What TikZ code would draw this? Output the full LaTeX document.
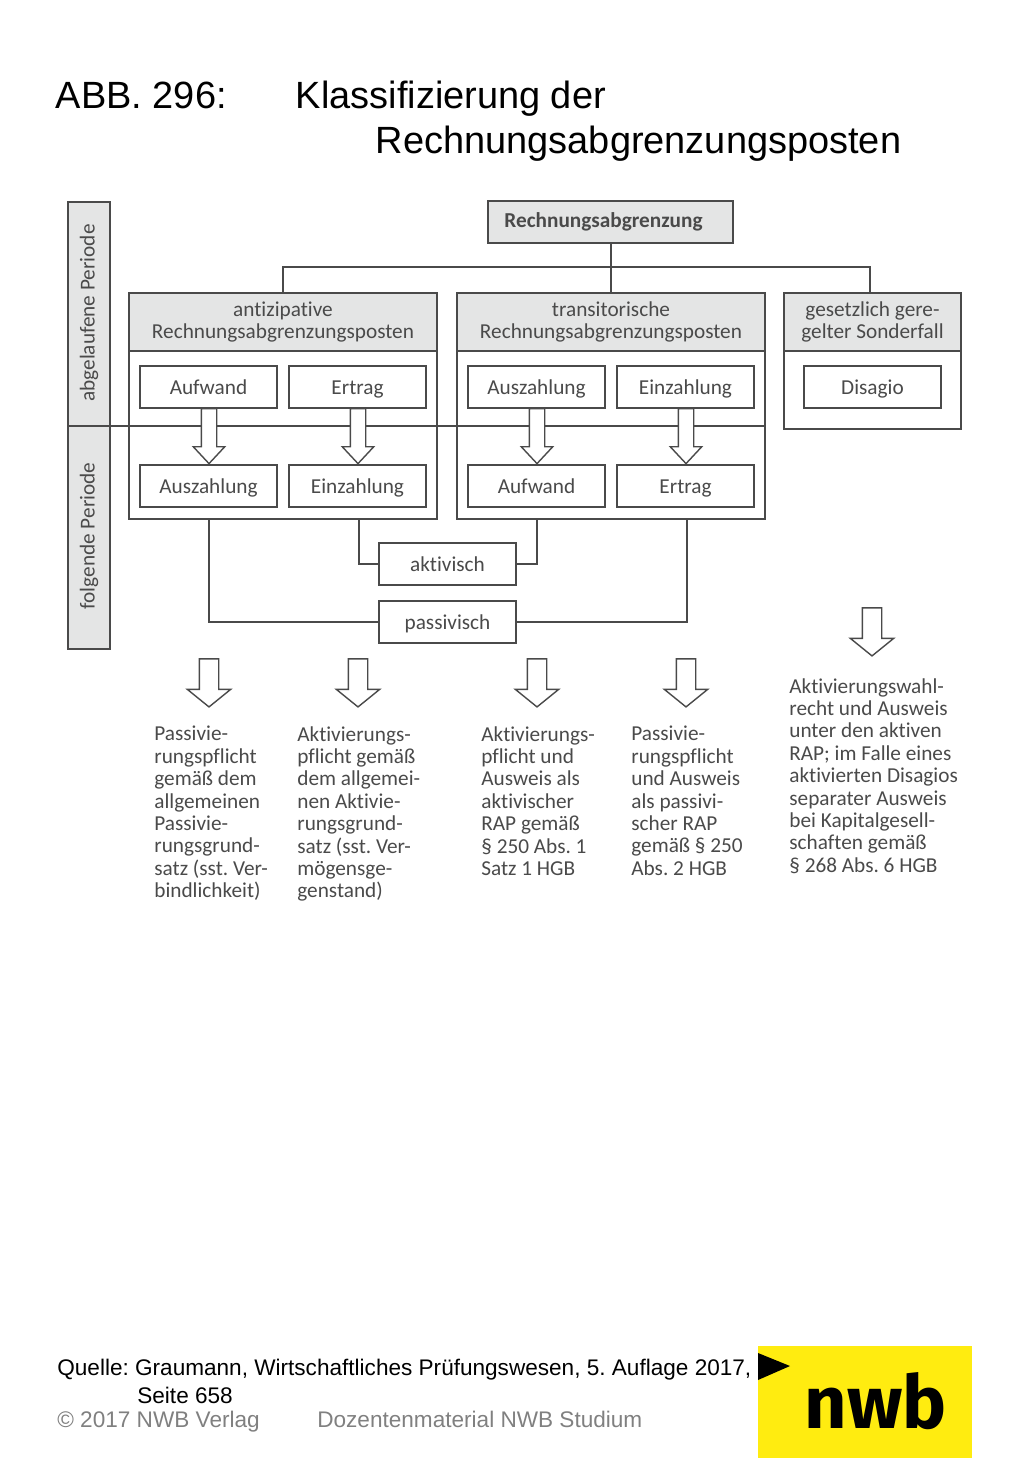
\documentclass[tikz,border=0pt]{standalone}
\usepackage{fontspec}
\setmainfont[Ligatures=NoCommon]{Carlito}
\newfontfamily\titlefont{Liberation Sans}
\newfontfamily\logofont{Fira Sans}
\usetikzlibrary{shapes.arrows}
\frenchspacing

\definecolor{boxgrey}{HTML}{E4E5E5}
\definecolor{inkgrey}{HTML}{4A4A4A}
\definecolor{nwbyellow}{HTML}{FFEC10}

\tikzset{
  linestyle/.style={draw=inkgrey, line width=0.8pt},
  difont/.style={font=\fontsize{12.1pt}{12.75pt}\selectfont, text=inkgrey},
  innerbox/.style={linestyle, difont, fill=white, minimum width=2.74cm, minimum height=0.84cm,
    inner sep=0pt, text height=11pt, text depth=2pt},
  greybox/.style={linestyle, difont, fill=boxgrey, inner sep=0pt, align=center},
  groupbox/.style={linestyle, fill=white, inner sep=0pt},
  smallarrow/.style={linestyle, fill=white, shape=single arrow, rotate=-90, inner xsep=0pt, inner ysep=0.14cm,
    minimum height=1.1cm, minimum width=0.6cm, single arrow head extend=0.16cm, single arrow tip angle=86},
  bigarrow/.style={linestyle, fill=white, shape=single arrow, rotate=-90, inner xsep=0pt, inner ysep=0.18cm,
    minimum height=0.96cm, minimum width=0.84cm, single arrow head extend=0.24cm, single arrow tip angle=102},
  noteblock/.style={difont, anchor=north west, inner sep=0pt, align=left},
  titletext/.style={font=\titlefont\fontsize{21.6pt}{25pt}\selectfont, anchor=base west, inner sep=0pt},
  foottext/.style={font=\titlefont\fontsize{12.85pt}{15pt}\selectfont, anchor=base west, inner sep=0pt},
}

\begin{document}
\begin{tikzpicture}[x=0.02cm, y=-0.02cm]
\useasboundingbox (0,0) rectangle (1024,1479);

% title
\node[titletext] (titlea) at (55.5,109) {ABB. 296:};
\node[titletext] (titleb) at (295.5,109) {Klassifizierung der};
\node[titletext] (titlec) at (375.5,154) {Rechnungsabgrenzungsposten};

% period column
\node[greybox, minimum width=0.84cm, minimum height=4.48cm] (periodold) at (89,314) {};
\node[greybox, minimum width=0.84cm, minimum height=4.46cm] (periodnew) at (89,537.5) {};
\node[difont, rotate=90] (periodoldtext) at (89,313) {abgelaufene Periode};
\node[difont, rotate=90] (periodnewtext) at (89,536) {folgende Periode};

% top box and the three groups
\node[greybox, minimum width=4.9cm, minimum height=0.84cm] (top) at (610.5,222) {\textbf{Rechnungsabgrenzung}\hspace{0.28cm}};
\node[groupbox, minimum width=6.16cm, minimum height=4.52cm] (antizip) at (283,406) {};
\node[groupbox, minimum width=6.16cm, minimum height=4.52cm] (transit) at (611,406) {};
\node[groupbox, minimum width=3.54cm, minimum height=2.72cm] (sonder) at (872.5,361) {};
\node[greybox, minimum width=6.16cm, minimum height=1.16cm] (antiziphead) at (283,322) {antizipative\\Rechnungsabgrenzungsposten};
\node[greybox, minimum width=6.16cm, minimum height=1.16cm] (transithead) at (611,322) {transitorische\\Rechnungsabgrenzungsposten};
\node[greybox, minimum width=3.54cm, minimum height=1.16cm] (sonderhead) at (872.5,322) {gesetzlich gere-\\gelter Sonderfall};

\coordinate (bus) at (611,267);
\coordinate (sondertop) at (870,293);
\draw[linestyle] (top.south -| bus) -- (bus);
\draw[linestyle] (antiziphead.north) |- (bus);
\draw[linestyle] (sondertop) |- (bus);
\draw[linestyle] (transithead.north) -- (bus);

% divider between the periods
\coordinate (dividerstart) at (68,426);
\coordinate (dividerend) at (765,426);
\draw[linestyle] (dividerstart) -- (dividerend);

% arrows between the periods
\node[smallarrow] (arrowa) at (209,432) {};
\node[smallarrow] (arrowb) at (358,432) {};
\node[smallarrow] (arrowc) at (537,432) {};
\node[smallarrow] (arrowd) at (686,432) {};

% inner boxes
\node[innerbox] (aufwanda) at (208.5,387) {Aufwand};
\node[innerbox] (ertraga) at (357.5,387) {Ertrag};
\node[innerbox] (auszb) at (536.5,387) {Auszahlung};
\node[innerbox] (einzb) at (685.5,387) {Einzahlung};
\node[innerbox] (disagio) at (872.5,387) {Disagio};
\node[innerbox] (ausza) at (208.5,486) {Auszahlung};
\node[innerbox] (einza) at (357.5,486) {Einzahlung};
\node[innerbox] (aufwandb) at (536.5,486) {Aufwand};
\node[innerbox] (ertragb) at (685.5,486) {Ertrag};

% aktivisch / passivisch
\node[innerbox] (aktiv) at (447.5,564) {aktivisch};
\node[innerbox] (passiv) at (447.5,622) {passivisch};
\coordinate (downa) at (209,519);
\coordinate (downb) at (359,519);
\coordinate (downc) at (537,519);
\coordinate (downd) at (687,519);
\draw[linestyle] (downb) |- (aktiv.west);
\draw[linestyle] (downc) |- (aktiv.east);
\draw[linestyle] (downa) |- (passiv.west);
\draw[linestyle] (downd) |- (passiv.east);

% lower arrows
\node[bigarrow] (arrowe) at (209,679) {};
\node[bigarrow] (arrowf) at (358,679) {};
\node[bigarrow] (arrowg) at (537,679) {};
\node[bigarrow] (arrowh) at (686,679) {};
\node[bigarrow] (arrowi) at (872,628) {};

% notes
\node[noteblock] (notea) at (154,726) {Passivie-\\rungspflicht\\gemäß dem\\allgemeinen\\Passivie-\\rungsgrund-\\satz (sst. Ver-\\bindlichkeit)};
\node[noteblock] (noteb) at (297,726) {Aktivierungs-\\pflicht gemäß\\dem allgemei-\\nen Aktivie-\\rungsgrund-\\satz (sst. Ver-\\mögensge-\\genstand)};
\node[noteblock] (notec) at (481,726) {Aktivierungs-\\pflicht und\\Ausweis als\\aktivischer\\RAP gemäß\\§ 250 Abs. 1\\Satz 1 HGB};
\node[noteblock] (noted) at (631,726) {Passivie-\\rungspflicht\\und Ausweis\\als passivi-\\scher RAP\\gemäß § 250\\Abs. 2 HGB};
\node[noteblock] (notee) at (789,678) {Aktivierungswahl-\\recht und Ausweis\\unter den aktiven\\RAP; im Falle eines\\aktivierten Disagios\\separater Ausweis\\bei Kapitalgesell-\\schaften gemäß\\§ 268 Abs. 6 HGB};

% footer
\node[foottext] (sourcea) at (57,1375) {Quelle: Graumann, Wirtschaftliches Prüfungswesen, 5. Auflage 2017,};
\node[foottext] (sourceb) at (137,1403) {Seite 658};
\node[foottext, text=gray] (verlag) at (57,1427) {© 2017 NWB Verlag};
\node[foottext, text=gray] (dozent) at (317,1427) {Dozentenmaterial NWB Studium};

% logo
\fill[nwbyellow] (758,1346) rectangle (972,1458);
\fill[black] (758,1353) -- (790,1366) -- (758,1380) -- cycle;
\node[font=\logofont\bfseries\fontsize{42pt}{42pt}\selectfont, anchor=base, inner sep=0pt] (logo) at (875.5,1428) {nwb};

\end{tikzpicture}
\end{document}
